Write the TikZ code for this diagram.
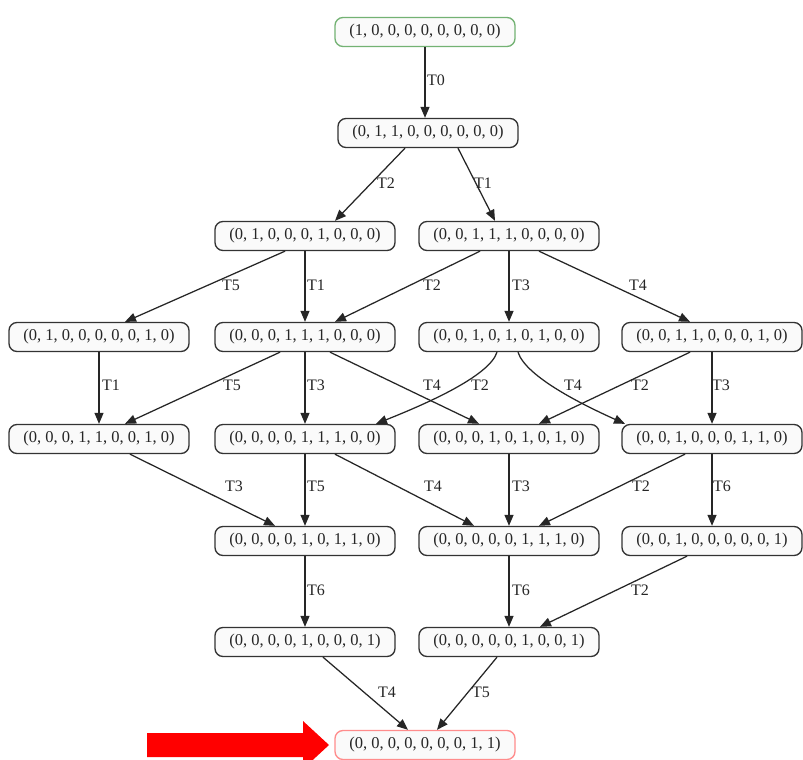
\documentclass[tikz,border=0pt]{standalone}
\usepackage{fontspec}
\setmainfont{Liberation Serif}
\usetikzlibrary{arrows.meta}
\begin{document}
\begin{tikzpicture}[x=1pt,y=-1pt,
  state/.style={draw=black!80, line width=1.35pt, rounded corners=8pt, fill=gray!4,
    minimum width=180pt, minimum height=29pt, inner sep=0pt,
    font=\fontsize{16.5}{19}\selectfont, text=black!85},
  lab/.style={font=\fontsize{16}{19}\selectfont, inner sep=0pt, text=black!85},
  edge/.style={draw=black!85, line width=1.25pt, -{Triangle[length=11pt,width=9pt]}}]
\useasboundingbox (0,0) rectangle (803,760);
\fill[white] (0,0) rectangle (803,760);
% nodes
\node[state, draw=green!45!black!55] (s0) at (425,32) {(1, 0, 0, 0, 0, 0, 0, 0, 0)};
\node[state] (s1) at (428,133) {(0, 1, 1, 0, 0, 0, 0, 0, 0)};
\node[state] (A) at (305,236) {(0, 1, 0, 0, 0, 1, 0, 0, 0)};
\node[state] (B) at (509,236) {(0, 0, 1, 1, 1, 0, 0, 0, 0)};
\node[state] (C) at (99,337) {(0, 1, 0, 0, 0, 0, 0, 1, 0)};
\node[state] (D) at (305,337) {(0, 0, 0, 1, 1, 1, 0, 0, 0)};
\node[state] (E) at (509,337) {(0, 0, 1, 0, 1, 0, 1, 0, 0)};
\node[state] (F) at (712,337) {(0, 0, 1, 1, 0, 0, 0, 1, 0)};
\node[state] (G) at (99,439) {(0, 0, 0, 1, 1, 0, 0, 1, 0)};
\node[state] (H) at (305,439) {(0, 0, 0, 0, 1, 1, 1, 0, 0)};
\node[state] (I) at (509,439) {(0, 0, 0, 1, 0, 1, 0, 1, 0)};
\node[state] (J) at (712,439) {(0, 0, 1, 0, 0, 0, 1, 1, 0)};
\node[state] (K) at (305,541) {(0, 0, 0, 0, 1, 0, 1, 1, 0)};
\node[state] (L) at (509,541) {(0, 0, 0, 0, 0, 1, 1, 1, 0)};
\node[state] (M) at (712,541) {(0, 0, 1, 0, 0, 0, 0, 0, 1)};
\node[state] (N) at (305,642) {(0, 0, 0, 0, 1, 0, 0, 0, 1)};
\node[state] (O) at (509,642) {(0, 0, 0, 0, 0, 1, 0, 0, 1)};
\node[state, draw=red!45] (P) at (425,745) {(0, 0, 0, 0, 0, 0, 0, 1, 1)};
% edges
\draw[edge] ([xshift=0pt]s0.south) -- ([xshift=-3pt]s1.north);
\draw[edge] ([xshift=-23pt]s1.south) -- ([xshift=30pt]A.north);
\draw[edge] ([xshift=30pt]s1.south) -- ([xshift=-14pt]B.north);
\draw[edge] ([xshift=-20pt]A.south) -- ([xshift=26pt]C.north);
\draw[edge] (A.south) -- (D.north);
\draw[edge] ([xshift=-29pt]B.south) -- ([xshift=30pt]D.north);
\draw[edge] (B.south) -- (E.north);
\draw[edge] ([xshift=30pt]B.south) -- ([xshift=-22pt]F.north);
\draw[edge] (C.south) -- (G.north);
\draw[edge] ([xshift=-25pt]D.south) -- ([xshift=26pt]G.north);
\draw[edge] (D.south) -- (H.north);
\draw[edge] ([xshift=25pt]D.south) -- ([xshift=-30pt]I.north);
\draw[edge] ([xshift=-12pt]E.south) .. controls +(-8,25) and +(45,-18) .. ([xshift=71pt]H.north);
\draw[edge] ([xshift=9pt]E.south) .. controls +(8,25) and +(-40,-18) .. ([xshift=-87pt]J.north);
\draw[edge] ([xshift=-22pt]F.south) -- ([xshift=30pt]I.north);
\draw[edge] (F.south) -- (J.north);
\draw[edge] ([xshift=31pt]G.south) -- ([xshift=-30pt]K.north);
\draw[edge] (H.south) -- (K.north);
\draw[edge] ([xshift=30pt]H.south) -- ([xshift=-35pt]L.north);
\draw[edge] (I.south) -- (L.north);
\draw[edge] ([xshift=-27pt]J.south) -- ([xshift=30pt]L.north);
\draw[edge] (J.south) -- (M.north);
\draw[edge] (K.south) -- (N.north);
\draw[edge] (L.south) -- (O.north);
\draw[edge] ([xshift=-25pt]M.south) -- ([xshift=31pt]O.north);
\draw[edge] ([xshift=18pt]N.south) -- ([xshift=-17pt]P.north);
\draw[edge] ([xshift=-12pt]O.south) -- ([xshift=12pt]P.north);
% labels
\node[lab] (l1) at (436,80) {T0};
\node[lab] (l2) at (386,183) {T2};
\node[lab] (l3) at (483,183) {T1};
\node[lab] (l4) at (231,285) {T5};
\node[lab] (l5) at (316,285) {T1};
\node[lab] (l6) at (432,285) {T2};
\node[lab] (l7) at (521,285) {T3};
\node[lab] (l8) at (638,285) {T4};
\node[lab] (l9) at (111,385) {T1};
\node[lab] (l10) at (232,385) {T5};
\node[lab] (l11) at (316,385) {T3};
\node[lab] (l12) at (432,385) {T4};
\node[lab] (l13) at (480,385) {T2};
\node[lab] (l14) at (573,385) {T4};
\node[lab] (l15) at (640,385) {T2};
\node[lab] (l16) at (721,385) {T3};
\node[lab] (l17) at (234,486) {T3};
\node[lab] (l18) at (316,486) {T5};
\node[lab] (l19) at (433,486) {T4};
\node[lab] (l20) at (521,486) {T3};
\node[lab] (l21) at (641,486) {T2};
\node[lab] (l22) at (722,486) {T6};
\node[lab] (l23) at (316,590) {T6};
\node[lab] (l24) at (521,590) {T6};
\node[lab] (l25) at (640,590) {T2};
\node[lab] (l26) at (387,692) {T4};
\node[lab] (l27) at (481,692) {T5};
% red pointer arrow
\fill[red] (147,733) -- (303,733) -- (303,721) -- (329,745) -- (303,769) -- (303,757) -- (147,757) -- cycle;
\end{tikzpicture}
\end{document}
